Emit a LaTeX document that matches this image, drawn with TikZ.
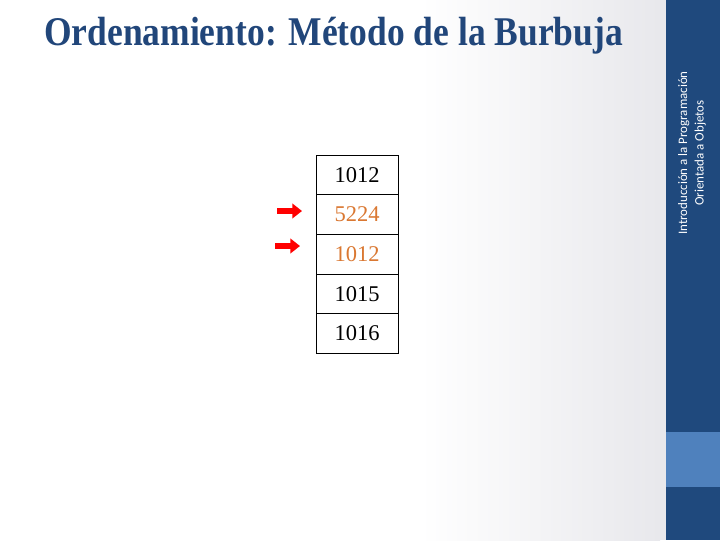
\documentclass[tikz,border=0pt]{standalone}
\usepackage{fontspec}
\setmainfont{Liberation Serif}
\newfontfamily\sidefont{Carlito}
\usetikzlibrary{arrows.meta}
\usetikzlibrary{positioning}

\definecolor{sidebarblue}{RGB}{31,73,125}
\definecolor{sidebarlight}{RGB}{79,129,189}
\definecolor{titleblue}{RGB}{33,70,122}
\definecolor{swaporange}{RGB}{218,120,50}
\definecolor{stripgray}{RGB}{232,232,236}

\tikzset{
  cell/.style={draw=black, line width=0.7pt, minimum width=2.05cm,
    minimum height=0.99cm, inner sep=0pt, outer sep=0pt,
    font=\fontsize{16}{16}\selectfont},
  swapped/.style={text=swaporange},
  marker/.style={draw=red, line width=0.15cm,
    -{Triangle[length=0.24cm, width=0.36cm]}}
}

\begin{document}
\begin{tikzpicture}[x=0.025cm, y=-0.025cm]
      \useasboundingbox (0, 0) rectangle (720, 540);
      % background and side bar
      \fill[white] (0, 0) rectangle (720, 540);
      \shade[left color=white, right color=stripgray] (420, 0) rectangle (660, 540);
      \fill[stripgray] (660, 0) rectangle (666, 540);
      \fill[sidebarblue] (666, 0) rectangle (720, 540);
      \fill[sidebarlight] (666, 432) rectangle (720, 487);
      \node (side) at (692, 153) [rotate=90, align=center, text=white,
        font=\sidefont\fontsize{9.2}{11.6}\selectfont]
        {Introducción a la Programación\\Orientada a Objetos};

      % title
      \node (title) at (44, 45) [anchor=base west, inner sep=0pt, text=titleblue,
        font=\bfseries\fontsize{29}{29}\selectfont]
        {\scalebox{0.87}[1]{Ordenamiento: Método de la Burbuja}};

      % the list
      \node (c1) at (357, 175) [cell] {1012};
      \node (c2) [cell, swapped, below=0pt of c1] {5224};
      \node (c3) [cell, swapped, below=0pt of c2] {1012};
      \node (c4) [cell, below=0pt of c3] {1015};
      \node (c5) [cell, below=0pt of c4] {1016};

      % pointers to the pair being compared
      \coordinate (p1) at (277, 211);
      \coordinate (q1) at (302, 211);
      \coordinate (p2) at (275, 246);
      \coordinate (q2) at (300, 246);
      \draw[marker] (p1) -- (q1);
      \draw[marker] (p2) -- (q2);
    \end{tikzpicture}
\end{document}
